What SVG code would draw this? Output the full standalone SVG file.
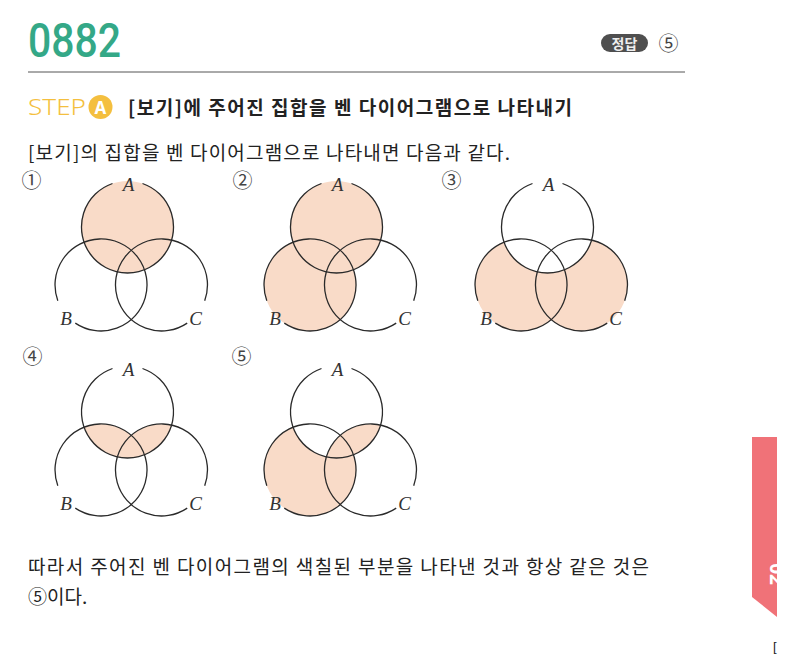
<svg xmlns="http://www.w3.org/2000/svg" width="800" height="655" viewBox="0 0 800 655">
<style>
.kr{font-family:"Noto Sans CJK KR","Noto Sans",sans-serif;fill:#222}
.num{font-family:"Noto Sans CJK KR","DejaVu Sans",sans-serif;fill:#444;font-size:20px}
.lbl{font-family:"Liberation Serif",serif;font-style:italic;font-size:19px;fill:#333;text-anchor:middle}
.arc{fill:none;stroke:#2a2a2a;stroke-width:1.3}
.sh{fill:#f9dbc8;stroke:none}
</style>
<defs>
<clipPath id="clipA"><circle cx="26.5" cy="-58" r="46"/></clipPath>
<mask id="notA" maskUnits="userSpaceOnUse" x="-80" y="-140" width="240" height="220">
<rect x="-80" y="-140" width="240" height="220" fill="#fff"/>
<circle cx="26.5" cy="-58" r="46" fill="#000"/>
</mask>
<clipPath id="ribbonClip"><polygon points="752,437 777,437 777,617 752,597"/></clipPath>
<g id="outline">
<path class="arc" d="M41.5,-101.5 A46,46 0 1 1 11.5,-101.5"/>
<path class="arc" d="M-43.2,15.7 A46,46 0 1 1 -25.7,38.1"/>
<path class="arc" d="M86.2,38.1 A46,46 0 1 1 103.7,15.7"/>
<text class="lbl" x="27.5" y="-94">A</text>
<text class="lbl" x="-35" y="40">B</text>
<text class="lbl" x="94.5" y="40">C</text>
</g>
</defs>

<g id="header">
<text x="28" y="57" font-family="Roboto, sans-serif" font-weight="500" font-size="49" fill="#34a887" textLength="93" lengthAdjust="spacingAndGlyphs">0882</text>
<rect x="601" y="34" width="47" height="18" rx="9" fill="#4f4f4f"/>
<text x="624.5" y="48.5" class="kr" font-size="14" font-weight="700" style="fill:#eee" text-anchor="middle">정답</text>
<text x="668.5" y="50.5" class="num" font-size="22" text-anchor="middle">⑤</text>
<line x1="28" y1="72" x2="685" y2="72" stroke="#555" stroke-width="1"/>
</g>

<g id="step">
<text x="28" y="115" font-family="'Noto Sans', sans-serif" font-weight="300" font-size="21" fill="#f4bf3f" textLength="58" lengthAdjust="spacingAndGlyphs">STEP</text>
<circle cx="100.5" cy="107" r="12" fill="#f4bf3f"/>
<text x="100.5" y="113.5" font-family="'Noto Sans', sans-serif" font-weight="700" font-size="17" fill="#fff" text-anchor="middle">A</text>
<text x="128" y="115" class="kr" font-weight="700" font-size="19" textLength="444">[보기]에 주어진 집합을 벤 다이어그램으로 나타내기</text>
<text x="28" y="160" class="kr" font-size="19" textLength="482">[보기]의 집합을 벤 다이어그램으로 나타내면 다음과 같다.</text>
</g>

<g id="d1" transform="translate(101,285)">
<circle class="sh" cx="26.5" cy="-58" r="46"/>
<use href="#outline"/>
</g>
<g id="d2" transform="translate(310,285)">
<circle class="sh" cx="26.5" cy="-58" r="46"/>
<circle class="sh" cx="0" cy="0" r="46"/>
<use href="#outline"/>
</g>
<g id="d3" transform="translate(521,285)">
<g mask="url(#notA)">
<circle class="sh" cx="0" cy="0" r="46"/>
<circle class="sh" cx="60.5" cy="0" r="46"/>
</g>
<use href="#outline"/>
</g>
<g id="d4" transform="translate(101,470)">
<g clip-path="url(#clipA)">
<circle class="sh" cx="0" cy="0" r="46"/>
<circle class="sh" cx="60.5" cy="0" r="46"/>
</g>
<use href="#outline"/>
</g>
<g id="d5" transform="translate(310,470)">
<g mask="url(#notA)">
<circle class="sh" cx="0" cy="0" r="46"/>
</g>
<g clip-path="url(#clipA)">
<circle class="sh" cx="60.5" cy="0" r="46"/>
</g>
<use href="#outline"/>
</g>

<g id="numbers">
<text x="31.5" y="188" class="num" text-anchor="middle">①</text>
<text x="242.5" y="188" class="num" text-anchor="middle">②</text>
<text x="451.5" y="188" class="num" text-anchor="middle">③</text>
<text x="32.5" y="364" class="num" text-anchor="middle">④</text>
<text x="241.5" y="364" class="num" text-anchor="middle">⑤</text>
</g>

<g id="conclusion">
<text x="28" y="574" class="kr" font-size="19" textLength="621">따라서 주어진 벤 다이어그램의 색칠된 부분을 나타낸 것과 항상 같은 것은</text>
<text x="28" y="604" class="kr" font-size="19">⑤이다.</text>
</g>

<g id="ribbon">
<polygon points="752,437 777,437 777,617 752,597" fill="#f07278"/>
<g clip-path="url(#ribbonClip)">
<text x="0" y="0" transform="translate(770,574) rotate(90)" font-family="'Noto Sans', sans-serif" font-weight="700" font-size="19" fill="#fff" text-anchor="middle">02</text>
</g>
<text x="773" y="651" font-family="'Liberation Sans', sans-serif" font-size="13" fill="#222">[</text>
</g>
</svg>
